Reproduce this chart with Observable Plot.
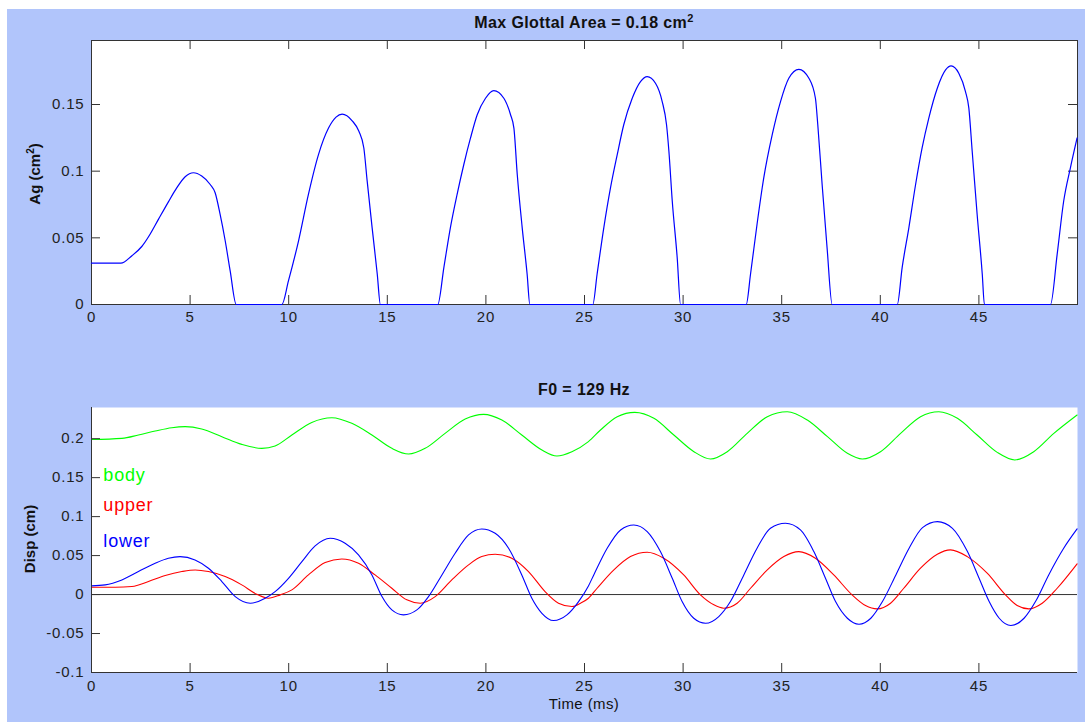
<!DOCTYPE html>
<html><head><meta charset="utf-8">
<script src="https://cdn.jsdelivr.net/npm/d3@7"></script>
<script src="https://cdn.jsdelivr.net/npm/@observablehq/plot@0.6"></script>
<style>
html,body{margin:0;padding:0;background:#fff;}
body{width:1085px;height:722px;overflow:hidden;position:relative;font-family:"Liberation Sans",Arial,sans-serif;}
#fig{position:absolute;left:7px;top:9px;width:1078px;height:713px;background:#b1c5fb;}
#topPlot,#bottomPlot,#overlay{position:absolute;left:0;}
#topPlot{top:0;} #bottomPlot{top:340px;} #overlay{top:0;pointer-events:none;}
</style></head>
<body>
<div id="fig"></div>
<div id="topPlot"></div>
<div id="bottomPlot"></div>
<svg id="overlay" width="1085" height="722"></svg>
<script>
// ---- Data: glottal area (top panel) ----
const agTime = [0,1.49,2.05,2.55,2.97,3.40,3.90,4.33,4.75,5.17,5.59,6.02,6.27,6.52,6.78,7.03,7.34,
  9.65,9.99,10.50,11.00,11.51,12.02,12.40,12.71,13.22,13.56,13.81,13.98,14.23,14.49,14.65,
  17.56,17.87,18.20,18.54,18.88,19.22,19.56,19.98,20.40,20.91,21.25,21.42,21.59,21.84,22.09,22.23,
  25.42,25.64,25.98,26.32,26.66,26.99,27.42,27.84,28.18,28.60,28.94,29.16,29.28,29.45,29.70,29.87,
  33.20,33.42,33.75,34.09,34.52,34.94,35.36,35.87,36.38,36.71,36.83,37.05,37.30,37.56,
  40.86,41.11,41.45,41.79,42.12,42.46,42.89,43.31,43.59,43.98,44.32,44.49,44.66,44.91,45.17,45.28,
  48.63,48.97,49.30,49.64,49.98];
const agValue = [0.031,0.031,0.0366,0.0435,0.0527,0.0640,0.0770,0.0876,0.0958,0.0988,0.0963,0.0900,0.0838,0.0677,0.0478,0.0254,0,
  0,0.0179,0.0478,0.0826,0.1124,0.1323,0.1405,0.1428,0.1378,0.1299,0.1174,0.0925,0.0577,0.0229,0,
  0,0.0279,0.0577,0.0826,0.105,0.1249,0.1423,0.1547,0.1604,0.1547,0.1423,0.1323,0.0975,0.0577,0.0229,0,
  0,0.0229,0.0577,0.0876,0.1124,0.1348,0.1547,0.1672,0.1709,0.1659,0.1522,0.1348,0.1149,0.0776,0.0353,0,
  0,0.0229,0.0602,0.095,0.1274,0.1522,0.1697,0.1764,0.1697,0.1547,0.1348,0.0900,0.0428,0,
  0,0.0279,0.0577,0.0900,0.1174,0.1398,0.1622,0.1759,0.1789,0.1734,0.1597,0.1473,0.1149,0.0677,0.0229,0,
  0,0.0378,0.0776,0.1025,0.1249];

// ---- Data: displacements (bottom panel) ----
const bodyTime = [0,1.54,2.38,3.23,4.07,4.75,5.59,6.61,7.62,8.64,9.31,10.16,11.17,12.19,13.20,14.22,15.23,16.08,16.92,17.93,18.95,19.88,20.81,21.82,22.84,23.60,24.36,25.20,25.81,26.66,27.55,28.52,29.53,30.55,31.39,32.24,33.25,34.27,35.28,36.30,37.32,38.33,39.09,40.01,41.03,42.04,42.97,43.91,44.91,45.93,46.82,47.78,48.80,49.98];
const bodyValue = [0.199,0.2004,0.2047,0.2098,0.2141,0.2154,0.2124,0.2026,0.1927,0.1876,0.1906,0.2047,0.2209,0.2269,0.2197,0.2047,0.1876,0.1803,0.1876,0.2068,0.2252,0.2312,0.2239,0.2047,0.1855,0.1778,0.1833,0.1962,0.2111,0.2282,0.2338,0.2261,0.2047,0.1833,0.1739,0.1833,0.2068,0.2282,0.2346,0.2239,0.2026,0.1812,0.1739,0.1833,0.2068,0.2282,0.2346,0.2261,0.2047,0.1824,0.1727,0.1833,0.2068,0.2304];

const upperTime = [0,1.20,2.05,2.89,3.74,4.58,5.26,5.93,6.78,7.62,8.38,8.97,9.57,10.16,11.00,11.85,12.69,13.54,14.38,15.23,15.99,16.67,17.43,18.27,19.12,19.79,20.47,21.31,22.16,23.00,23.68,24.36,24.80,25.20,25.64,26.49,27.33,28.18,29.02,30.03,30.88,31.56,32.06,32.74,33.42,34.27,35.11,35.87,36.71,37.64,38.57,39.25,39.84,40.52,41.19,42.04,42.89,43.56,44.41,45.42,46.35,46.94,47.53,48.21,48.97,49.98];
const upperValue = [0.0094,0.0094,0.0103,0.0167,0.0244,0.0295,0.0316,0.0295,0.0231,0.0124,0.0004,-0.0047,-0.0004,0.006,0.0252,0.0410,0.0457,0.0402,0.0252,0.0081,-0.0068,-0.0111,-0.0026,0.0188,0.0381,0.0487,0.0517,0.0466,0.0295,0.0038,-0.0111,-0.0154,-0.0111,-0.0047,0.0081,0.0316,0.0487,0.0543,0.0466,0.0252,-0.0004,-0.0132,-0.0175,-0.0111,0.0081,0.0316,0.0487,0.0551,0.0466,0.0252,-0.0004,-0.0141,-0.0184,-0.0111,0.0081,0.0338,0.0517,0.0573,0.0487,0.0274,-0.0004,-0.0141,-0.0184,-0.0111,0.0081,0.0394];

const lowerTime = [0,0.69,1.54,2.38,3.23,3.90,4.49,5.25,5.93,6.61,7.29,8.05,8.81,9.31,9.99,10.67,11.34,12.10,12.86,13.54,14.22,14.73,15.23,15.82,16.50,17.09,17.77,18.44,19.12,19.79,20.47,21.15,21.82,22.33,22.84,23.43,24.11,24.70,25.20,25.47,26.15,26.83,27.50,28.18,28.85,29.45,29.95,30.54,31.14,31.81,32.40,33.08,33.75,34.43,35.19,35.95,36.63,37.22,37.73,38.33,38.92,39.52,40.11,40.79,41.46,42.14,42.90,43.66,44.42,45.01,45.52,46.03,46.62,47.29,47.87,48.54,49.30,49.98];
const lowerValue = [0.0111,0.0124,0.0188,0.0295,0.0402,0.0466,0.0487,0.0444,0.0338,0.0167,-0.0026,-0.0111,-0.0047,0.0038,0.0209,0.0423,0.0624,0.0722,0.0658,0.0509,0.0252,-0.0026,-0.0197,-0.0261,-0.0197,-0.0026,0.0252,0.0530,0.0765,0.0842,0.0786,0.0594,0.0252,-0.0047,-0.0240,-0.0333,-0.0261,-0.0090,0.0110,0.0252,0.0594,0.0829,0.0893,0.0808,0.0551,0.0209,-0.009,-0.0304,-0.0368,-0.0282,-0.009,0.0252,0.0594,0.0850,0.0914,0.0829,0.0551,0.0209,-0.009,-0.0304,-0.0381,-0.0304,-0.009,0.0252,0.0594,0.0859,0.0936,0.0850,0.0551,0.0209,-0.009,-0.0304,-0.0397,-0.0304,-0.009,0.0252,0.0594,0.0842];

// ---- Ticks and labels ----
const timeTicks = [0,5,10,15,20,25,30,35,40,45];
const agTicks = [0,0.05,0.1,0.15];
const dispTicks = [-0.1,-0.05,0,0.05,0.1,0.15,0.2];
const seriesNames = ["body","upper","lower"];
const seriesColors = ["#00ff00","#ff0000","#0000ff"];
const labelTime = [0.6,0.6,0.6];
const labelValue = [0.153,0.114,0.069];

const topTitle = "Max Glottal Area = 0.18 cm";
const bottomTitle = "F0 = 129 Hz";
const xLabel = "Time (ms)";
const agLabel = "Ag (cm";
const dispLabel = "Disp (cm)";

// ---- Build tables ----
const ag = agTime.map((t,i)=>({t, v: agValue[i]}));
const body = bodyTime.map((t,i)=>({t, v: bodyValue[i]}));
const upper = upperTime.map((t,i)=>({t, v: upperValue[i]}));
const lower = lowerTime.map((t,i)=>({t, v: lowerValue[i]}));
const labels = seriesNames.map((s,i)=>({s, t: labelTime[i], v: labelValue[i], c: seriesColors[i]}));

const fmt = d => String(+d.toFixed(3));
const axisColor = "#333";
const baseStyle = {background:"transparent", fontFamily:"'Liberation Sans', Arial, sans-serif", fontSize:"15px", color:"#222", overflow:"visible", letterSpacing:"0.8px"};

const W = 1085, mL = 91, mR = 8;
const fw = W - mL - mR;

// Top panel
const tH = 340, tT = 40, tB = 36, tfh = tH - tT - tB;
const topChart = Plot.plot({
  width: W, height: tH, marginLeft: mL, marginRight: mR, marginTop: tT, marginBottom: tB,
  x: {domain: [0, 50]}, y: {domain: [0, 0.198]},
  style: baseStyle,
  marks: [
    Plot.frame({fill: "white", stroke: null}),
    Plot.ruleX(timeTicks.slice(1), {x: d => d, insetTop: tfh - 9, stroke: axisColor}),
    Plot.ruleX(timeTicks.slice(1), {x: d => d, insetBottom: tfh - 9, stroke: axisColor}),
    Plot.ruleY(agTicks.slice(1), {y: d => d, insetRight: fw - 9, stroke: axisColor}),
    Plot.ruleY(agTicks.slice(1), {y: d => d, insetLeft: fw - 9, stroke: axisColor}),
    Plot.frame({stroke: axisColor}),
    Plot.line(ag, {x: "t", y: "v", stroke: "#0000ff", strokeWidth: 1.2, curve: "monotone-x"}),
    Plot.axisX({ticks: timeTicks, tickSize: 0, tickPadding: 7, tickFormat: fmt, label: null}),
    Plot.axisY({ticks: agTicks, tickSize: 0, tickPadding: 7, tickFormat: fmt, label: null})
  ]
});
document.getElementById("topPlot").appendChild(topChart);

// Bottom panel
const bH = 382, bT = 67, bB = 50, bfh = bH - bT - bB;
const bottomChart = Plot.plot({
  width: W, height: bH, marginLeft: mL, marginRight: mR, marginTop: bT, marginBottom: bB,
  x: {domain: [0, 50]}, y: {domain: [-0.1, 0.24]},
  style: baseStyle,
  marks: [
    Plot.frame({fill: "white", stroke: null}),
    Plot.ruleY([0], {stroke: axisColor}),
    Plot.line(body, {x: "t", y: "v", stroke: "#00ff00", strokeWidth: 1.1, curve: "monotone-x"}),
    Plot.line(upper, {x: "t", y: "v", stroke: "#ff0000", strokeWidth: 1.1, curve: "monotone-x"}),
    Plot.line(lower, {x: "t", y: "v", stroke: "#0000ff", strokeWidth: 1.1, curve: "monotone-x"}),
    Plot.text(labels, {x: "t", y: "v", text: "s", fill: "c", textAnchor: "start", fontSize: 18, lineAnchor: "middle"}),
    Plot.ruleX(timeTicks.slice(1), {x: d => d, insetTop: bfh - 9, stroke: axisColor}),
    Plot.ruleY(dispTicks.slice(1), {y: d => d, insetRight: fw - 9, stroke: axisColor}),
    Plot.ruleX([0], {stroke: axisColor}),
    Plot.ruleY([-0.1], {stroke: axisColor}),
    Plot.axisX({ticks: timeTicks, tickSize: 0, tickPadding: 8, tickFormat: fmt, label: null}),
    Plot.axisY({ticks: dispTicks, tickSize: 0, tickPadding: 7, tickFormat: fmt, label: null})
  ]
});
document.getElementById("bottomPlot").appendChild(bottomChart);

// Titles and axis labels
const ov = d3.select("#overlay").style("font-family", "'Liberation Sans', Arial, sans-serif").attr("fill", "#111");
const t1 = ov.append("text").attr("x", 584).attr("y", 28).attr("text-anchor", "middle").attr("font-weight", "bold").attr("font-size", 16).attr("letter-spacing", "0.4px");
t1.append("tspan").text(topTitle);
t1.append("tspan").attr("dy", -6).attr("font-size", 11).text("2");
ov.append("text").attr("x", 584).attr("y", 395).attr("text-anchor", "middle").attr("font-weight", "bold").attr("font-size", 16).attr("letter-spacing", "0.4px").text(bottomTitle);
ov.append("text").attr("x", 584).attr("y", 709).attr("text-anchor", "middle").attr("font-size", 15).attr("letter-spacing", "0.4px").text(xLabel);
const yl1 = ov.append("text").attr("transform", "translate(40,174) rotate(-90)").attr("text-anchor", "middle").attr("font-weight", "bold").attr("font-size", 15);
yl1.append("tspan").text(agLabel);
yl1.append("tspan").attr("dy", -6).attr("font-size", 10).text("2");
yl1.append("tspan").attr("dy", 6).text(")");
ov.append("text").attr("transform", "translate(35,539) rotate(-90)").attr("text-anchor", "middle").attr("font-weight", "bold").attr("font-size", 15).text(dispLabel);
</script>
</body></html>
